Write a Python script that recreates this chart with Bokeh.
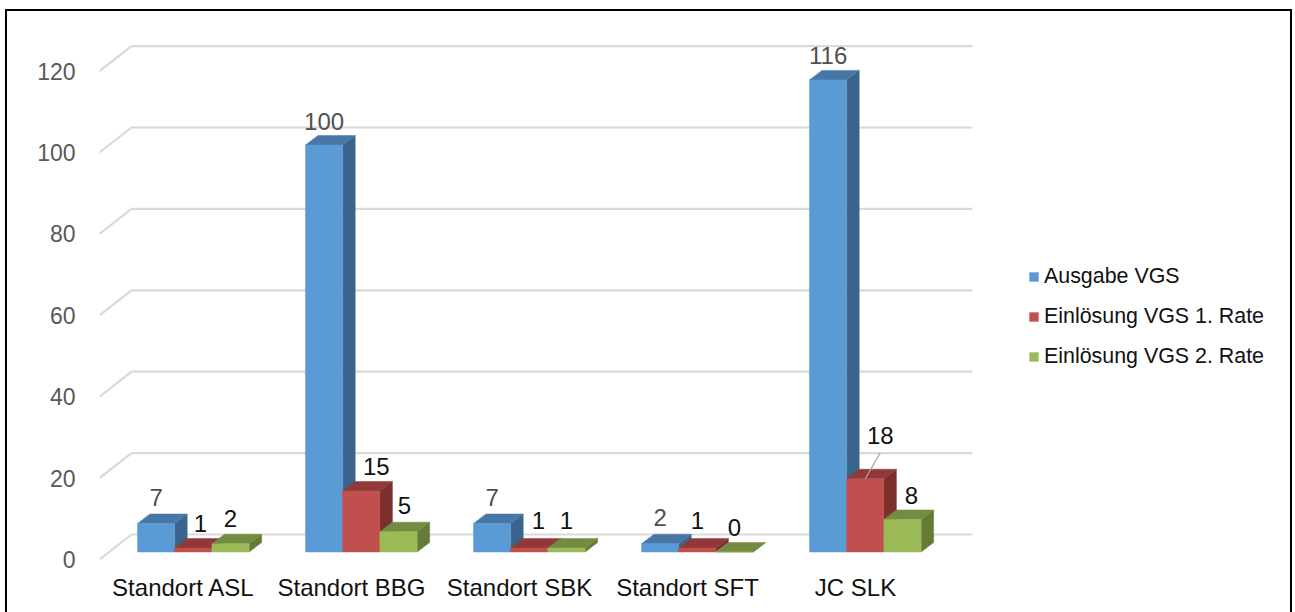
from bokeh.embed import file_html
from bokeh.models import (ColumnDataSource, FixedTicker, InlineStyleSheet, Legend,
                          LegendItem, Range1d)
from bokeh.plotting import figure
from bokeh.resources import INLINE

categories = ["Standort ASL", "Standort BBG", "Standort SBK", "Standort SFT", "JC SLK"]
series_names = ["Ausgabe VGS", "Einlösung VGS 1. Rate", "Einlösung VGS 2. Rate"]
ausgabe = [7, 100, 7, 2, 116]
rate_1 = [1, 15, 1, 1, 18]
rate_2 = [2, 5, 1, 0, 8]
y_ticks = [0, 20, 40, 60, 80, 100, 120]

series_values = [ausgabe, rate_1, rate_2]
front_colors = ["#5B9BD5", "#C0504D", "#9BBB59"]
top_colors = ["#4677A6", "#8F3A38", "#748C42"]
side_colors = ["#3A648C", "#7C302E", "#667A38"]
label_colors = ["#505050", "#111111", "#111111"]

# Label nudges in pixels, per series and category
label_dx = [[0, 0, 0, 0, 0], [7, 15, 9, 0, 15], [0, 6, 0, 0, 9]]
label_dy = [[26, 24, 26, 26, 24], [24, 24, 27, 27, 43], [25, 26, 27, 25, 24]]

PX_PER_CATEGORY = 168.0
PX_PER_UNIT = 4.07
px_x = lambda px: px / PX_PER_CATEGORY
px_y = lambda px: px / PX_PER_UNIT

FONT = "Liberation Sans"
WIDTH, HEIGHT = 1295, 612
LEFT, BOTTOM = 99, 53  # space kept for the axes around the frame

# Data ranges chosen so that one category and one value unit keep a fixed pixel size
first_center = (183 - LEFT) / PX_PER_CATEGORY
x_start = -first_center
x_end = x_start + (WIDTH - LEFT) / PX_PER_CATEGORY
y_end = (HEIGHT - BOTTOM) / PX_PER_UNIT

# Black border round the whole chart; its lower edge lies below the page
border_css = InlineStyleSheet(css="""
:host { position: relative; }
:host::after {
  content: ""; position: absolute; left: 5px; top: 9px; width: 1287px; height: 603px;
  box-sizing: border-box; border: 2px solid #000; border-bottom: none; pointer-events: none;
}
""")

p = figure(width=WIDTH, height=HEIGHT, output_backend="svg", toolbar_location=None,
           x_range=Range1d(x_start, x_end), y_range=Range1d(0, y_end),
           min_border_left=LEFT, min_border_bottom=BOTTOM, min_border_top=0,
           min_border_right=0, outline_line_color=None, stylesheets=[border_css])
p.xgrid.visible = False
p.ygrid.visible = False

p.yaxis.ticker = FixedTicker(ticks=y_ticks)
p.yaxis.major_tick_line_color = None
p.yaxis.minor_tick_line_color = None
p.yaxis.axis_line_color = None
p.yaxis.major_label_text_font = FONT
p.yaxis.major_label_text_font_size = "23px"
p.yaxis.major_label_text_color = "#595959"
p.yaxis.major_label_standoff = 18

p.xaxis.ticker = FixedTicker(ticks=list(range(len(categories))))
p.xaxis.major_label_overrides = {i: c for i, c in enumerate(categories)}
p.xaxis.major_tick_line_color = None
p.xaxis.minor_tick_line_color = None
p.xaxis.axis_line_color = None
p.xaxis.major_label_text_font = FONT
p.xaxis.major_label_text_font_size = "24px"
p.xaxis.major_label_text_color = "#111111"
p.xaxis.major_label_standoff = 8

# Chart walls: a diagonal on the floor edge, then the gridline across the back
wall_dx, wall_dy = px_x(32), px_y(25)
wall_right = x_start + px_x(972 - LEFT)
p.segment(x0=[x_start] * len(y_ticks), y0=y_ticks,
          x1=[x_start + wall_dx] * len(y_ticks), y1=[t + wall_dy for t in y_ticks],
          line_color="#D9D9D9", line_width=2.2)
p.segment(x0=[x_start + wall_dx] * len(y_ticks), y0=[t + wall_dy for t in y_ticks],
          x1=[wall_right] * len(y_ticks), y1=[t + wall_dy for t in y_ticks],
          line_color="#D9D9D9", line_width=2.2)

# Extruded bars: front face, top face and side face for every value
bar_width = px_x(37.2)
depth_x, depth_y = px_x(12.5), px_y(9.5)
group_offset = px_x(137 - 183)
floor = px_y(7.5)

legend_items = []
for s, values in enumerate(series_values):
    lefts = [i + group_offset + s * bar_width for i in range(len(values))]
    rights = [x + bar_width for x in lefts]
    tops = [v + floor for v in values]
    bottoms = [floor] * len(values)

    side_xs = [[r, r + depth_x, r + depth_x, r] for r in rights]
    side_ys = [[floor, floor + depth_y, t + depth_y, t] for t in tops]
    p.patches(side_xs, side_ys, fill_color=side_colors[s],
              line_color=side_colors[s], line_width=0.5)

    top_xs = [[l, l + depth_x, r + depth_x, r] for l, r in zip(lefts, rights)]
    top_ys = [[t, t + depth_y, t + depth_y, t] for t in tops]
    p.patches(top_xs, top_ys, fill_color=top_colors[s],
              line_color=top_colors[s], line_width=0.5)

    front = p.quad(left=lefts, right=rights, top=tops, bottom=bottoms,
                   fill_color=front_colors[s], line_color=front_colors[s], line_width=0.5)
    legend_items.append(LegendItem(label=series_names[s], renderers=[front]))

# Leader line from the label of the tallest second-rate bar down to its top
i_leader = rate_1.index(max(rate_1))
leader_x = i_leader + group_offset + 1.5 * bar_width
p.segment(x0=[leader_x], y0=[rate_1[i_leader] + floor],
          x1=[leader_x + px_x(15)], y1=[rate_1[i_leader] + floor + px_y(26)],
          line_color="#A6A6A6", line_width=1.3)

# Value labels above each bar
for s, values in enumerate(series_values):
    source = ColumnDataSource(dict(
        x=[i + group_offset + (s + 0.5) * bar_width for i in range(len(values))],
        y=[v + floor for v in values],
        label=[str(v) for v in values],
        dx=label_dx[s],
        dy=[-d for d in label_dy[s]],
    ))
    p.text(x="x", y="y", text="label", source=source, x_offset="dx", y_offset="dy",
           text_align="center", text_baseline="middle", text_font_size="24px",
           text_color=label_colors[s], text_font={"value": FONT})

legend = Legend(items=legend_items, location=(929, 190), orientation="vertical",
                border_line_color=None, background_fill_alpha=0,
                glyph_width=11, glyph_height=11, label_height=15, label_width=225,
                spacing=15, padding=0, margin=0, label_standoff=5,
                label_text_font=FONT, label_text_font_size="21.4px",
                label_text_color="#111111", label_text_baseline="middle")
p.add_layout(legend, "center")

open("out.html", "w").write(file_html(p, INLINE))
